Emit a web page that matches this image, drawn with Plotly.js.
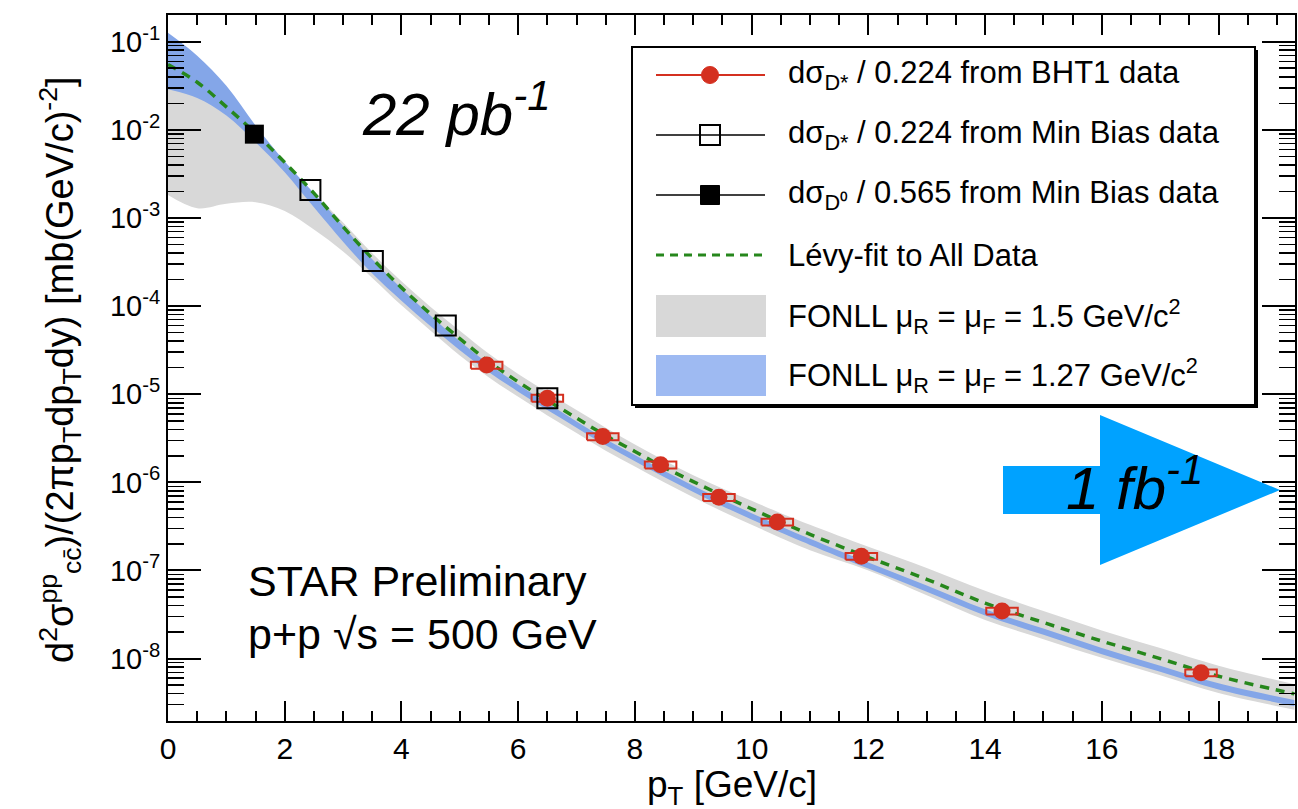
<!DOCTYPE html>
<html><head><meta charset="utf-8">
<script src="https://cdn.plot.ly/plotly-3.0.1.min.js"></script>
<style>html,body{margin:0;padding:0;background:#fff;} #chart{width:1298px;height:809px;}</style>
</head><body><div id="chart"></div>
<script>
// ---------- data ----------
const bhtPt     = [5.46, 6.50, 7.45, 8.44, 9.44, 10.44, 11.88, 14.29, 17.70];
const bhtXsec   = [2.14e-5, 9.02e-6, 3.31e-6, 1.58e-6, 6.76e-7, 3.55e-7, 1.45e-7, 3.47e-8, 6.92e-9];
const bhtSysPt  = [0.27, 0.27, 0.27, 0.27, 0.27, 0.27, 0.27, 0.27, 0.27];
const bhtSysRel = [0.09, 0.09, 0.09, 0.09, 0.09, 0.09, 0.09, 0.09, 0.09];

const mbDstarPt   = [2.44, 3.51, 4.76, 6.50];
const mbDstarXsec = [2.07e-3, 3.24e-4, 6.03e-5, 9.02e-6];

const mbD0Pt   = [1.48];
const mbD0Xsec = [8.93e-3];

const curvePt = [0, 0.5, 1, 1.5, 2, 2.5, 3, 3.5, 4, 4.5, 5, 5.5, 6, 6.5, 7, 7.5, 8, 8.5, 9, 9.5, 10, 10.5, 11, 12, 13, 14, 15, 16, 17, 18, 19.3];
const levyFit = [5.50e-2, 3.47e-2, 1.82e-2, 9.12e-3, 4.27e-3, 1.91e-3, 7.94e-4, 3.47e-4, 1.62e-4, 8.13e-5, 4.27e-5, 2.34e-5, 1.38e-5, 8.51e-6, 5.37e-6, 3.39e-6, 2.24e-6, 1.48e-6, 1.02e-6, 7.08e-7, 5.01e-7, 3.55e-7, 2.57e-7, 1.41e-7, 7.94e-8, 4.27e-8, 2.57e-8, 1.58e-8, 1.00e-8, 6.31e-9, 3.98e-9];
const fonll127High = [1.26e-1, 6.92e-2, 3.16e-2, 1.12e-2, 4.37e-3, 1.91e-3, 8.13e-4, 3.39e-4, 1.58e-4, 7.76e-5, 3.98e-5, 2.19e-5, 1.29e-5, 7.94e-6, 4.90e-6, 3.09e-6, 2.04e-6, 1.35e-6, 9.12e-7, 6.31e-7, 4.47e-7, 3.16e-7, 2.29e-7, 1.23e-7, 6.76e-8, 3.63e-8, 2.19e-8, 1.32e-8, 8.32e-9, 5.25e-9, 3.39e-9];
const fonll127Low  = [2.88e-2, 2.29e-2, 1.45e-2, 7.24e-3, 3.31e-3, 1.32e-3, 5.37e-4, 2.34e-4, 1.15e-4, 5.89e-5, 3.16e-5, 1.78e-5, 1.07e-5, 6.61e-6, 4.17e-6, 2.63e-6, 1.74e-6, 1.15e-6, 7.76e-7, 5.37e-7, 3.80e-7, 2.69e-7, 1.95e-7, 1.05e-7, 5.75e-8, 3.09e-8, 1.86e-8, 1.12e-8, 7.08e-9, 4.47e-9, 2.88e-9];
const fonll15High  = [5.01e-2, 2.82e-2, 1.58e-2, 8.91e-3, 3.98e-3, 1.91e-3, 8.91e-4, 3.98e-4, 1.91e-4, 9.77e-5, 5.25e-5, 2.88e-5, 1.70e-5, 1.05e-5, 6.61e-6, 4.17e-6, 2.69e-6, 1.78e-6, 1.20e-6, 8.51e-7, 6.17e-7, 4.47e-7, 3.31e-7, 1.86e-7, 1.07e-7, 5.89e-8, 3.47e-8, 2.09e-8, 1.32e-8, 8.32e-9, 5.13e-9];
const fonll15Low   = [1.82e-3, 1.29e-3, 1.45e-3, 1.51e-3, 1.20e-3, 7.41e-4, 4.17e-4, 2.09e-4, 1.02e-4, 5.25e-5, 2.75e-5, 1.55e-5, 9.33e-6, 5.75e-6, 3.63e-6, 2.29e-6, 1.51e-6, 1.00e-6, 6.76e-7, 4.68e-7, 3.31e-7, 2.34e-7, 1.70e-7, 1.00e-7, 5.25e-8, 2.75e-8, 1.66e-8, 1.02e-8, 6.46e-9, 4.07e-9, 2.63e-9];

const yTickVals  = [1e-8, 1e-7, 1e-6, 1e-5, 1e-4, 1e-3, 1e-2, 1e-1];
const yTickText  = ['10<sup>-8</sup>','10<sup>-7</sup>','10<sup>-6</sup>','10<sup>-5</sup>','10<sup>-4</sup>','10<sup>-3</sup>','10<sup>-2</sup>','10<sup>-1</sup>'];

const legendLabels = [
  'dσ<sub>D*</sub> / 0.224 from BHT1 data',
  'dσ<sub>D*</sub> / 0.224 from Min Bias data',
  'dσ<sub>D⁰</sub> / 0.565 from Min Bias data',
  'Lévy-fit to All Data',
  'FONLL μ<sub>R</sub> = μ<sub>F</sub> = 1.5 GeV/c<sup>2</sup>',
  'FONLL μ<sub>R</sub> = μ<sub>F</sub> = 1.27 GeV/c<sup>2</sup>'
];

// ---------- geometry helpers ----------
const W = 1298, H = 809, ML = 168, MR = 3, MT = 15, MB = 88;
const PW = W - ML - MR, PH = H - MT - MB;
const px = v => (v - ML) / PW;
const py = v => (H - MB - v) / PH;

const FONT = 'Liberation Sans, Arial, Helvetica, sans-serif';
const RED = 'rgb(212,48,32)';
const GREEN = 'rgb(38,135,28)';
const GRAY = 'rgb(216,216,216)';
const BLUE = 'rgb(132,166,232)';
const BLUE_LEG = 'rgb(158,186,242)';

// systematic boxes built from data arrays
const boxX = [], boxY = [];
bhtPt.forEach((x, i) => {
  const dx = bhtSysPt[i], lo = bhtXsec[i] * (1 - bhtSysRel[i]), hi = bhtXsec[i] * (1 + bhtSysRel[i]);
  boxX.push(x - dx, x + dx, x + dx, x - dx, x - dx, null);
  boxY.push(lo, lo, hi, hi, lo, null);
});

const traces = [
  {x: curvePt, y: fonll15Low, mode: 'lines', line: {width: 0, shape: 'spline'}, hoverinfo: 'skip', showlegend: false},
  {x: curvePt, y: fonll15High, mode: 'lines', line: {width: 0, shape: 'spline'}, fill: 'tonexty', fillcolor: GRAY, hoverinfo: 'skip', showlegend: false},
  {x: curvePt, y: fonll127Low, mode: 'lines', line: {width: 0, shape: 'spline'}, hoverinfo: 'skip', showlegend: false},
  {x: curvePt, y: fonll127High, mode: 'lines', line: {width: 0, shape: 'spline'}, fill: 'tonexty', fillcolor: BLUE, hoverinfo: 'skip', showlegend: false},
  {x: curvePt, y: levyFit, mode: 'lines', line: {color: GREEN, width: 3.5, dash: '9px,7px', shape: 'spline'}, showlegend: false},
  {x: boxX, y: boxY, mode: 'lines', line: {color: RED, width: 2}, connectgaps: false, showlegend: false, hoverinfo: 'skip'},
  {x: bhtPt, y: bhtXsec, mode: 'markers', marker: {symbol: 'circle', size: 17, color: RED}, showlegend: false},
  {x: mbDstarPt, y: mbDstarXsec, mode: 'markers', marker: {symbol: 'square-open', size: 20, color: '#000', line: {width: 2, color: '#000'}}, showlegend: false},
  {x: mbD0Pt, y: mbD0Xsec, mode: 'markers', marker: {symbol: 'square', size: 19, color: '#000'}, showlegend: false}
];

// minor tick positions for the log axis (2..9 per decade)
const yMinor = [];
for (let e = -9; e <= -1; e++) for (let m = 2; m <= 9; m++) yMinor.push(m * Math.pow(10, e));

const shapes = [];
const annotations = [];

// legend box with shadow
shapes.push({type: 'rect', xref: 'paper', yref: 'paper', x0: px(635), x1: px(1258), y0: py(408), y1: py(50), fillcolor: '#000', line: {width: 0}, layer: 'above'});
shapes.push({type: 'rect', xref: 'paper', yref: 'paper', x0: px(632), x1: px(1255), y0: py(405), y1: py(47), fillcolor: '#fff', line: {color: '#000', width: 2}, layer: 'above'});
const rowY = [75, 135, 195, 255, 316, 375];
const symX0 = 656, symX1 = 765, symC = 710;
// row 1
shapes.push({type: 'line', xref: 'paper', yref: 'paper', x0: px(symX0), x1: px(symX1), y0: py(rowY[0]), y1: py(rowY[0]), line: {color: RED, width: 2}, layer: 'above'});
shapes.push({type: 'circle', xref: 'paper', yref: 'paper', x0: px(symC - 8.5), x1: px(symC + 8.5), y0: py(rowY[0] + 8.5), y1: py(rowY[0] - 8.5), fillcolor: RED, line: {color: RED, width: 1}, layer: 'above'});
// row 2
shapes.push({type: 'line', xref: 'paper', yref: 'paper', x0: px(symX0), x1: px(symX1), y0: py(rowY[1]), y1: py(rowY[1]), line: {color: '#000', width: 1.5}, layer: 'above'});
shapes.push({type: 'rect', xref: 'paper', yref: 'paper', x0: px(symC - 10), x1: px(symC + 10), y0: py(rowY[1] + 10), y1: py(rowY[1] - 10), line: {color: '#000', width: 2}, layer: 'above'});
// row 3
shapes.push({type: 'line', xref: 'paper', yref: 'paper', x0: px(symX0), x1: px(symX1), y0: py(rowY[2]), y1: py(rowY[2]), line: {color: '#000', width: 1.5}, layer: 'above'});
shapes.push({type: 'rect', xref: 'paper', yref: 'paper', x0: px(symC - 9.5), x1: px(symC + 9.5), y0: py(rowY[2] + 9.5), y1: py(rowY[2] - 9.5), fillcolor: '#000', line: {color: '#000', width: 1}, layer: 'above'});
// row 4
shapes.push({type: 'line', xref: 'paper', yref: 'paper', x0: px(symX0), x1: px(symX1), y0: py(rowY[3]), y1: py(rowY[3]), line: {color: GREEN, width: 3, dash: '8px,6px'}, layer: 'above'});
// row 5, 6
shapes.push({type: 'rect', xref: 'paper', yref: 'paper', x0: px(656), x1: px(766), y0: py(337), y1: py(295), fillcolor: GRAY, line: {width: 0}, layer: 'above'});
shapes.push({type: 'rect', xref: 'paper', yref: 'paper', x0: px(656), x1: px(766), y0: py(396), y1: py(355), fillcolor: BLUE_LEG, line: {width: 0}, layer: 'above'});

legendLabels.forEach((t, i) => {
  annotations.push({xref: 'paper', yref: 'paper', x: px(786), y: py(rowY[i]), xanchor: 'left', yanchor: 'middle', text: t, showarrow: false, font: {family: FONT, size: 31, color: '#000'}});
});

// blue arrow
const arrowPts = [[1003, 466], [1100, 466], [1100, 415], [1280, 490], [1100, 565], [1100, 514], [1003, 514]];
shapes.push({type: 'path', xref: 'paper', yref: 'paper', path: 'M' + arrowPts.map(p => px(p[0]) + ',' + py(p[1])).join(' L') + ' Z', fillcolor: 'rgb(0,162,255)', line: {width: 0}, layer: 'above'});

// text annotations
annotations.push({xref: 'paper', yref: 'paper', x: px(360), y: py(110), xanchor: 'left', yanchor: 'middle', text: '<i>22 pb<sup>-1</sup></i>', showarrow: false, font: {family: FONT, size: 60, color: '#000'}});
annotations.push({xref: 'paper', yref: 'paper', x: px(1064), y: py(484), xanchor: 'left', yanchor: 'middle', text: '<i>1 fb<sup>-1</sup></i>', showarrow: false, font: {family: FONT, size: 60, color: '#000'}});
annotations.push({xref: 'paper', yref: 'paper', x: px(246), y: py(581), xanchor: 'left', yanchor: 'middle', text: 'STAR Preliminary', showarrow: false, font: {family: FONT, size: 43, color: '#000'}});
annotations.push({xref: 'paper', yref: 'paper', x: px(246), y: py(634), xanchor: 'left', yanchor: 'middle', text: 'p+p √s = 500 GeV', showarrow: false, font: {family: FONT, size: 43, color: '#000'}});
// axis titles
annotations.push({xref: 'paper', yref: 'paper', x: 0.5, y: py(787), xanchor: 'center', yanchor: 'middle', text: 'p<sub>T</sub> [GeV/c]', showarrow: false, font: {family: FONT, size: 37, color: '#000'}});
annotations.push({xref: 'paper', yref: 'paper', x: px(60), y: py(370), xanchor: 'center', yanchor: 'middle', textangle: -90, text: 'd<sup>2</sup>σ<sup>pp</sup><sub>cc̄</sub>)/(2πp<sub>T</sub>dp<sub>T</sub>dy) [mb(GeV/c)<sup>-2</sup>]', showarrow: false, font: {family: FONT, size: 38, color: '#000'}});

const layout = {
  width: W, height: H,
  margin: {l: ML, r: MR, t: MT, b: MB},
  paper_bgcolor: '#fff', plot_bgcolor: '#fff',
  showlegend: false,
  font: {family: FONT, color: '#000'},
  xaxis: {
    range: [0, 19.31], tick0: 0, dtick: 2,
    showline: true, linecolor: '#000', linewidth: 2, mirror: 'allticks',
    ticks: 'inside', ticklen: 20, tickwidth: 2, tickcolor: '#000',
    showgrid: false, zeroline: false,
    tickfont: {family: FONT, size: 30, color: '#000'},
    minor: {ticks: 'inside', ticklen: 10, tickwidth: 2, tickcolor: '#000', dtick: 0.5, tick0: 0, showgrid: false}
  },
  yaxis: {
    type: 'log', range: [-8.708, -0.697],
    tickmode: 'array', tickvals: yTickVals, ticktext: yTickText,
    showline: true, linecolor: '#000', linewidth: 2, mirror: 'allticks',
    ticks: 'inside', ticklen: 33, tickwidth: 2, tickcolor: '#000',
    showgrid: false, zeroline: false,
    tickfont: {family: FONT, size: 29, color: '#000'},
    minor: {ticks: 'inside', ticklen: 16, tickwidth: 1.5, tickcolor: '#000', tickmode: 'array', tickvals: yMinor, showgrid: false}
  },
  shapes: shapes,
  annotations: annotations
};

Plotly.newPlot('chart', traces, layout, {displayModeBar: false, staticPlot: true});
</script>
</body></html>
